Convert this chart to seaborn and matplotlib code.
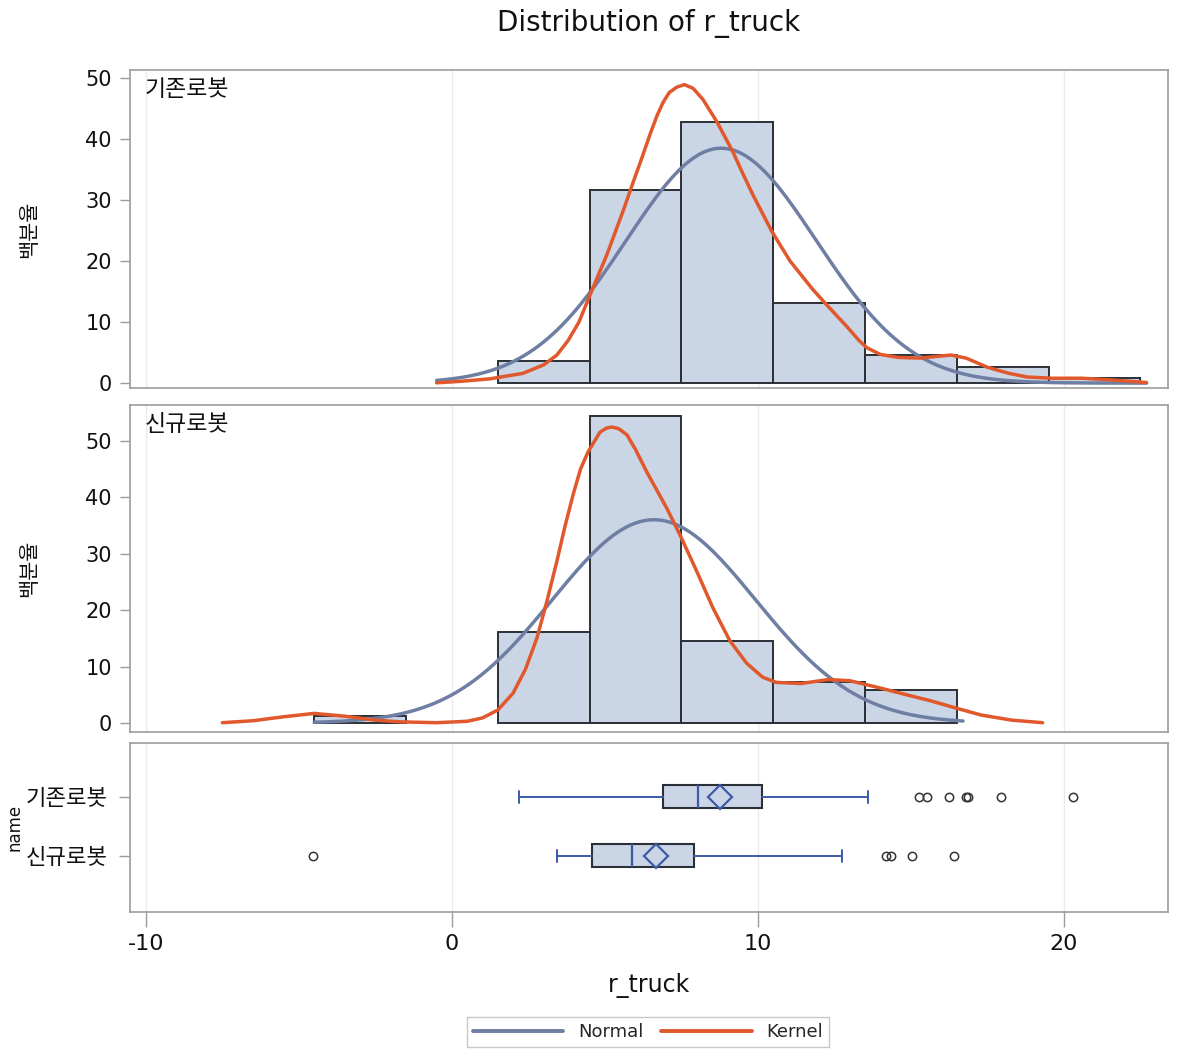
import numpy as np
import pandas as pd
import matplotlib
matplotlib.use("Agg")
import matplotlib.pyplot as plt
from matplotlib.lines import Line2D
import seaborn as sns

# ---------------- data ----------------
groups = ["기존로봇", "신규로봇"]

# histogram (percent per bin of width 3)
edges_existing = [1.5, 4.5, 7.5, 10.5, 13.5, 16.5, 19.5, 22.5]
pct_existing = [3.6, 31.6, 42.8, 13.1, 4.6, 2.6, 0.8]
edges_new = [-4.5, -1.5, 1.5, 4.5, 7.5, 10.5, 13.5, 16.5]
pct_new = [1.2, 0.0, 16.2, 54.4, 14.6, 7.2, 5.8]

# fitted normal parameters (mean, sd) and drawn range
normal_existing = (8.8, 3.11)
normal_new = (6.6, 3.32)
normal_range_existing = (-0.5, 22.7)
normal_range_new = (-4.5, 16.7)

# kernel density curves (percent scale)
kern_x_existing = [-0.5, 0.3, 1.24, 2.32, 3.0, 3.43, 3.8, 4.15, 4.51, 5.06, 5.6, 5.9, 6.2,
                   6.47, 6.7, 6.9, 7.1, 7.35, 7.6, 7.88, 8.2, 8.66, 9.18, 9.5, 9.84, 10.46,
                   11.05, 11.4, 11.8, 12.25, 12.9, 13.3, 13.56, 14.0, 14.6, 15.3, 15.9,
                   16.3, 16.8, 17.5, 18.2, 18.8, 19.6, 20.6, 21.6, 22.7]
kern_y_existing = [0.05, 0.3, 0.7, 1.6, 3.0, 4.6, 7.0, 10.0, 14.4, 21.0, 28.3, 32.6, 36.8,
                   40.7, 43.8, 46.0, 47.6, 48.5, 48.9, 48.3, 46.5, 42.8, 37.9, 34.4, 30.8,
                   24.8, 20.0, 17.8, 15.3, 12.8, 9.3, 7.0, 5.8, 4.7, 4.2, 4.1, 4.4,
                   4.6, 4.1, 2.6, 1.6, 1.0, 0.8, 0.8, 0.5, 0.1]
kern_x_new = [-7.5, -6.5, -5.5, -4.5, -3.5, -2.5, -1.7, -0.5, 0.5, 1.0, 1.5, 2.0, 2.4, 2.78,
              3.1, 3.43, 3.7, 3.96, 4.2, 4.45, 4.84, 5.05, 5.22, 5.45, 5.72, 6.0, 6.37,
              7.03, 7.45, 8.0, 8.53, 9.08, 9.63, 10.16, 10.6, 11.4, 12.3, 13.0, 14.0,
              15.0, 15.6, 16.5, 17.3, 18.3, 19.3]
kern_y_new = [0.05, 0.4, 1.1, 1.7, 1.2, 0.5, 0.2, 0.05, 0.3, 0.9, 2.3, 5.3, 9.5, 15.1,
              21.5, 28.7, 35.0, 40.5, 45.0, 48.1, 51.6, 52.3, 52.5, 52.2, 51.1, 48.5, 44.5,
              38.0, 33.4, 26.9, 20.4, 14.6, 10.6, 8.1, 7.2, 7.0, 7.7, 7.5, 6.2,
              4.8, 4.0, 2.6, 1.4, 0.5, 0.05]

# box plot statistics
box_whislo = [2.19, 3.43]
box_q1 = [6.9, 4.58]
box_med = [8.04, 5.88]
box_mean = [8.76, 6.67]
box_q3 = [10.13, 7.91]
box_whishi = [13.6, 12.75]
box_fliers = [[15.26, 15.52, 16.24, 16.8, 16.86, 17.94, 20.3],
              [-4.54, 14.18, 14.35, 15.03, 16.4]]

x_ticks = [-10, 0, 10, 20]
y_ticks = [0, 10, 20, 30, 40, 50]

# ---------------- style ----------------
sns.set_style("white")
plt.rcParams["font.family"] = ["DejaVu Sans", "Noto Sans CJK KR"]
plt.rcParams["axes.unicode_minus"] = False

FILL = "#CAD5E6"
EDGE = "#2B2F36"
NORMAL_C = "#6E7FA3"
KERNEL_C = "#E0582B"
BOXBLUE = "#3D5AA8"
SPINE = "#9C9C9C"
GRID = "#EBEBEB"
TXT = "#111111"

fig = plt.figure(figsize=(11.77, 10.5), dpi=100)
W, H = 1177, 1050
L, R = 130, 1168


def add_ax(top, bottom):
    return fig.add_axes([L / W, 1 - bottom / H, (R - L) / W, (bottom - top) / H])


ax1 = add_ax(70, 388)
ax2 = add_ax(405, 732)
ax3 = add_ax(743, 912)

xlim = (-10.52, 23.4)

panels = [
    (ax1, groups[0], edges_existing, pct_existing, normal_existing, normal_range_existing,
     kern_x_existing, kern_y_existing, (-0.8, 51.3)),
    (ax2, groups[1], edges_new, pct_new, normal_new, normal_range_new,
     kern_x_new, kern_y_new, (-1.6, 56.4)),
]

for ax, g, edges, pct, (mu, sd), (lo, hi), kx, ky, ylim in panels:
    centers = [(edges[i] + edges[i + 1]) / 2 for i in range(len(pct))]
    sns.histplot(x=centers, weights=pct, bins=edges, stat="count", color=FILL,
                 edgecolor=EDGE, linewidth=1.4, alpha=1.0, ax=ax, zorder=2)
    for p in ax.patches:
        if p.get_height() == 0:
            p.set_visible(False)
    xs = np.linspace(lo, hi, 300)
    ys = 100 * 3 / (np.sqrt(2 * np.pi) * sd) * np.exp(-0.5 * ((xs - mu) / sd) ** 2)
    sns.lineplot(x=xs, y=ys, color=NORMAL_C, linewidth=2.5, ax=ax, zorder=3, sort=False)
    sns.lineplot(x=kx, y=ky, color=KERNEL_C, linewidth=2.5, ax=ax, zorder=4, sort=False)
    ax.set_xlim(*xlim)
    ax.set_ylim(*ylim)
    ax.set_yticks(y_ticks)
    ax.set_xticks(x_ticks)
    ax.tick_params(axis="x", bottom=False, labelbottom=False)
    ax.tick_params(axis="y", left=True, length=7, width=1, color=SPINE,
                   labelsize=15, labelcolor=TXT, pad=6)
    ax.set_xlabel("")
    ax.set_ylabel("백분율", fontsize=15, color=TXT)
    ax.yaxis.set_label_coords(-0.088, 0.5)
    ax.grid(axis="x", color=GRID, linewidth=1)
    ax.set_axisbelow(True)
    ax.text(0.0145, 0.975, g, transform=ax.transAxes, ha="left", va="top",
            fontsize=16.5, color=TXT)
    for s in ax.spines.values():
        s.set_color(SPINE)
        s.set_linewidth(1.2)

# ---------------- box plot ----------------
stats = []
for i, g in enumerate(groups):
    stats.append(dict(label=g, whislo=box_whislo[i], q1=box_q1[i], med=box_med[i],
                      mean=box_mean[i], q3=box_q3[i], whishi=box_whishi[i],
                      fliers=box_fliers[i]))

ax3.bxp(stats, positions=[0, 1], widths=0.39, orientation="horizontal",
        patch_artist=True, showmeans=True, capwidths=0.2,
        boxprops=dict(facecolor=FILL, edgecolor=EDGE, linewidth=1.5),
        whiskerprops=dict(color=BOXBLUE, linewidth=1.4),
        capprops=dict(color=BOXBLUE, linewidth=1.4),
        medianprops=dict(color=BOXBLUE, linewidth=1.6),
        meanprops=dict(marker="D", markerfacecolor="none", markeredgecolor=BOXBLUE,
                       markeredgewidth=1.6, markersize=12.5),
        flierprops=dict(marker="o", markerfacecolor="none", markeredgecolor="#333333",
                        markeredgewidth=1.1, markersize=6))
ax3.set_xlim(*xlim)
ax3.set_ylim(1.95, -0.915)
ax3.set_yticks([0, 1])
ax3.set_yticklabels(groups)
ax3.set_xticks(x_ticks)
ax3.set_xticklabels([str(t) for t in x_ticks])
ax3.tick_params(axis="y", left=True, length=8, width=1, color=SPINE,
                labelsize=16, labelcolor=TXT, pad=8)
ax3.tick_params(axis="x", bottom=True, length=11, width=1, color=SPINE,
                labelsize=16, labelcolor=TXT, pad=5)
ax3.set_ylabel("name", fontsize=12, color=TXT)
ax3.yaxis.set_label_coords(-0.103, 0.5)
ax3.set_xlabel("r_truck", fontsize=17, color=TXT)
ax3.xaxis.set_label_coords(0.5, -0.36)
ax3.grid(axis="x", color=GRID, linewidth=1)
ax3.set_axisbelow(True)
for s in ax3.spines.values():
    s.set_color(SPINE)
    s.set_linewidth(1.2)

# ---------------- title & legend ----------------
fig.text(649 / W, 1 - 24 / H, "Distribution of r_truck", ha="center", va="center",
         fontsize=20, color=TXT)

handles = [Line2D([0], [0], color=NORMAL_C, linewidth=2.8),
           Line2D([0], [0], color=KERNEL_C, linewidth=2.8)]
leg = fig.legend(handles, ["Normal", "Kernel"], loc="center",
                 bbox_to_anchor=(648 / W, 1 - 1032 / H), ncol=2, frameon=True,
                 fancybox=False, edgecolor="#BBBBBB", fontsize=13, handlelength=5.0,
                 handletextpad=0.8, columnspacing=1.0, borderpad=0.35)
leg.get_frame().set_linewidth(1.0)

fig.savefig("out.png", dpi=100, facecolor="white")
